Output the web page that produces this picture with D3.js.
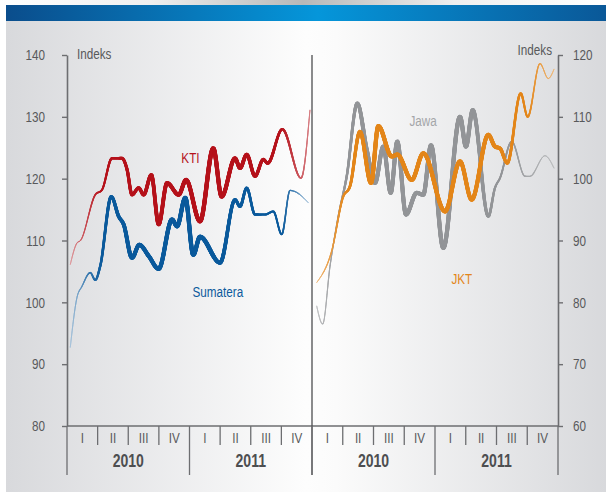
<!DOCTYPE html>
<html><head><meta charset="utf-8">
<script src="https://cdn.jsdelivr.net/npm/d3@7/dist/d3.min.js"></script>
<style>html,body{margin:0;padding:0;background:#fff;} svg{display:block;}</style>
</head><body><svg id="c" width="606" height="492"></svg>
<script>
// ---- data (time in months from Jan 2010, index values) ----
const ktiT = [0.32,0.98,1.32,2.77,3.43,4.41,5.39,5.88,6.37,7.02,7.51,8.26,8.98,9.80,10.94,11.66,13.03,14.33,15.15,16.46,16.95,17.60,18.42,19.23,19.66,21.09,22.92,23.80];
const ktiV = [106.1,109.6,110.0,117.4,118.2,123.3,123.3,121.5,117.4,118.5,117.4,120.6,112.6,119.3,117.4,119.8,113.1,124.9,117.1,123.3,121.7,123.9,120.4,123.1,122.5,128.0,120.1,131.1];
const sumT = [0.32,0.98,1.47,2.28,2.77,3.26,4.34,5.06,5.55,6.37,7.08,8.00,8.98,10.29,10.78,11.59,12.37,13.03,14.99,16.46,16.95,17.60,18.42,19.40,20.21,21.03,21.85,22.34,23.64];
const sumV = [92.7,100.8,102.6,104.8,103.6,105.9,117.1,113.9,112.6,107.2,109.3,107.5,105.4,113.4,112.3,116.9,107.7,110.6,106.4,116.6,115.5,118.5,114.2,114.2,114.7,111.0,118.1,117.9,116.1];
const jawaT = [0.46,1.04,1.76,2.57,3.39,4.42,5.34,6.15,6.96,7.68,8.32,9.17,10.21,10.86,11.61,12.81,14.44,15.02,15.68,17.20,17.85,18.34,19.48,20.78,21.27,22.73,23.61];
const jawaV = [79.4,76.5,85.9,93.9,100.4,112.2,104.7,99.3,105.2,97.7,106.0,94.2,97.7,97.4,105.4,88.8,110.0,105.2,111.1,93.9,98.5,100.1,106.0,100.4,100.4,103.7,101.7];
const jktT = [0.46,1.92,3.05,3.71,4.68,5.76,6.47,7.78,8.32,9.73,10.86,12.98,14.44,15.58,17.20,17.85,18.34,19.05,20.36,21.04,22.24,23.05,23.61];
const jktV = [83.2,88.3,97.1,98.8,107.6,99.3,108.5,103.6,103.9,99.8,104.1,94.7,102.8,96.6,107.1,105.2,104.9,102.5,113.8,110.0,118.6,116.2,117.7];
const leftTicks = [80,90,100,110,120,130,140];
const rightTicks = [60,70,80,90,100,110,120];
const quarters = ["I","II","III","IV"];
const years = ["2010","2011"];

const FONT = "'Liberation Sans',Arial,sans-serif";
const SQ = 0.78; // horizontal condensing of text
const svg = d3.select("#c");
const defs = svg.append("defs");

function squeeze(sel){
  sel.each(function(){
    const t = d3.select(this);
    const x = +t.attr("x") || 0, y = +t.attr("y") || 0;
    t.attr("x",0).attr("y",0).attr("transform",`translate(${x},${y}) scale(${SQ},1)`);
  });
}

function lg(id, stops){
  const g = defs.append("linearGradient").attr("id",id).attr("x1","0").attr("x2","1").attr("y1","0").attr("y2","0");
  stops.forEach(s=>g.append("stop").attr("offset",s[0]).attr("stop-color",s[1]));
}
lg("bg",[[0,"#d8d9dc"],[0.5,"#fdfdfd"],[0.55,"#fbfbfb"],[1,"#d8d9dc"]]);
lg("ban",[[0,"#0a4d8c"],[0.52,"#0596da"],[1,"#0a5898"]]);
lg("shadow",[[0,"#ffffff"],[0.25,"#efefef"],[0.5,"#b8b8b8"],[0.75,"#efefef"],[1,"#ffffff"]]);

svg.append("rect").attr("x",0).attr("y",0).attr("width",606).attr("height",6).attr("fill","url(#shadow)");
svg.append("rect").attr("x",6).attr("y",21).attr("width",600).attr("height",471).attr("fill","url(#bg)");
svg.append("rect").attr("x",6).attr("y",5).attr("width",600).attr("height",16).attr("fill","url(#ban)");

const yL = d3.scaleLinear().domain([80,140]).range([426,55]);
const yR = d3.scaleLinear().domain([60,120]).range([426,55]);
const xL = d3.scaleLinear().domain([0,24]).range([67,312]);
const xR = d3.scaleLinear().domain([0,24]).range([312,558]);

const axisCol = "#6d6e71", textCol = "#58595b";

const gl = svg.append("g").attr("transform","translate(67,0)")
  .call(d3.axisLeft(yL).tickValues(leftTicks).tickSize(5).tickSizeOuter(0).tickPadding(17));
const gr = svg.append("g").attr("transform","translate(558,0)")
  .call(d3.axisRight(yR).tickValues(rightTicks).tickSize(5).tickSizeOuter(0).tickPadding(10));
[gl,gr].forEach(g=>{
  g.select(".domain").attr("stroke",axisCol).attr("stroke-width",1.6);
  g.selectAll(".tick line").attr("stroke",axisCol).attr("stroke-width",1.4);
  g.selectAll(".tick text").attr("fill",textCol).style("font-family",FONT).style("font-size","15px").call(squeeze);
});

const baseY = yL(80);
svg.append("line").attr("x1",xL(0)).attr("x2",xR(24)).attr("y1",baseY).attr("y2",baseY)
  .attr("stroke",axisCol).attr("stroke-width",1.6);
svg.append("line").attr("x1",xL(24)).attr("x2",xL(24)).attr("y1",yL(140)).attr("y2",475)
  .attr("stroke","#4d4e50").attr("stroke-width",1.3);

[xL,xR].forEach(xs=>{
  for(let q=0;q<=8;q++){
    const m = q*3;
    const isYear = q%4===0;
    if(xs===xR && q===0) continue;
    svg.append("line").attr("x1",xs(m)).attr("x2",xs(m)).attr("y1",baseY).attr("y2",isYear?475:445)
      .attr("stroke",axisCol).attr("stroke-width",1.3);
  }
  for(let q=0;q<8;q++){
    svg.append("text").attr("x",xs(q*3+1.5)).attr("y",443).attr("text-anchor","middle")
      .attr("fill",textCol).style("font-family",FONT).style("font-size","15px")
      .text(quarters[q%4]).call(squeeze);
  }
  years.forEach((yr,i)=>{
    svg.append("text").attr("x",xs(i*12+6)).attr("y",467).attr("text-anchor","middle")
      .attr("fill","#4d4e50").style("font-family",FONT).style("font-size","18px").style("font-weight","bold")
      .text(yr).call(squeeze);
  });
});

svg.append("text").attr("x",77).attr("y",59).attr("fill",textCol).style("font-family",FONT).style("font-size","15px").text("Indeks").call(squeeze);
svg.append("text").attr("x",552).attr("y",55).attr("text-anchor","end").attr("fill",textCol).style("font-family",FONT).style("font-size","15px").text("Indeks").call(squeeze);

function tapered(tArr, vArr, x, y, color, widths, fades){
  const g = svg.append("g");
  const line = d3.line().x((d,i)=>x(tArr[i])).y(d=>y(d)).curve(d3.curveMonotoneX);
  const p = g.append("path").attr("d",line(vArr)).attr("fill","none").attr("stroke","none");
  const node = p.node(), L = node.getTotalLength();
  const wS = d3.scaleLinear().domain(widths.map(d=>d[0])).range(widths.map(d=>d[1])).clamp(true);
  const fS = d3.scaleLinear().domain(fades.map(d=>d[0])).range(fades.map(d=>d[1])).clamp(true);
  const mix = d3.interpolateRgb(color,"#ffffff");
  const step = 0.6;
  let prev = node.getPointAtLength(0);
  for(let s=step; s<L+step; s+=step){
    const q = node.getPointAtLength(Math.min(s,L));
    const t = x.invert((prev.x+q.x)/2);
    g.append("line").attr("x1",prev.x).attr("y1",prev.y).attr("x2",q.x).attr("y2",q.y)
      .attr("stroke",mix(fS(t))).attr("stroke-width",wS(t)).attr("stroke-linecap","round");
    prev = q;
  }
}

tapered(ktiT, ktiV, xL, yL, "#b5121b",
  [[0,0.6],[2,1.2],[4,2.2],[6,3.2],[9,3.8],[14,4.3],[17,3.8],[20,3.0],[22,2.0],[23.8,1.0]],
  [[0,0.6],[2,0.2],[3.5,0],[21,0],[23.8,0.45]]);
tapered(sumT, sumV, xL, yL, "#0b5a9c",
  [[0,0.6],[2,1.3],[4,3.0],[6,4.0],[14,4.3],[17,3.0],[19,2.2],[21,1.8],[22,1.2],[23.6,0.8]],
  [[0,0.7],[2,0.2],[3.5,0],[21,0],[22.5,0.3],[23.6,0.6]]);
tapered(jawaT, jawaV, xR, yR, "#939598",
  [[0,0.8],[2,1.2],[3.5,2.5],[5,4.0],[15,4.2],[16.5,3.6],[18,2.0],[19.5,1.5],[21,1.1],[23.6,0.8]],
  [[0,0.5],[2,0.1],[3.5,0],[19,0],[23.6,0.35]]);
tapered(jktT, jktV, xR, yR, "#e3861a",
  [[0,0.7],[2,1.3],[3,2.0],[4.5,3.5],[6,4.2],[18,4.0],[19,3.0],[20.5,2.2],[21.5,1.5],[22.5,1.0],[23.6,0.8]],
  [[0,0.5],[2,0.15],[3.5,0],[21,0],[23.6,0.4]]);

const lab = (x,y,txt,col)=>svg.append("text").attr("x",x).attr("y",y).attr("fill",col)
  .style("font-family",FONT).style("font-size","15px").text(txt).call(squeeze);
lab(xL(11.2),163,"KTI","#b5121b");
lab(xL(12.3),297,"Sumatera","#0b5a9c");
lab(xR(9.5),126,"Jawa","#a4a6a9");
lab(xR(13.6),284,"JKT","#e3861a");
</script></body></html>
